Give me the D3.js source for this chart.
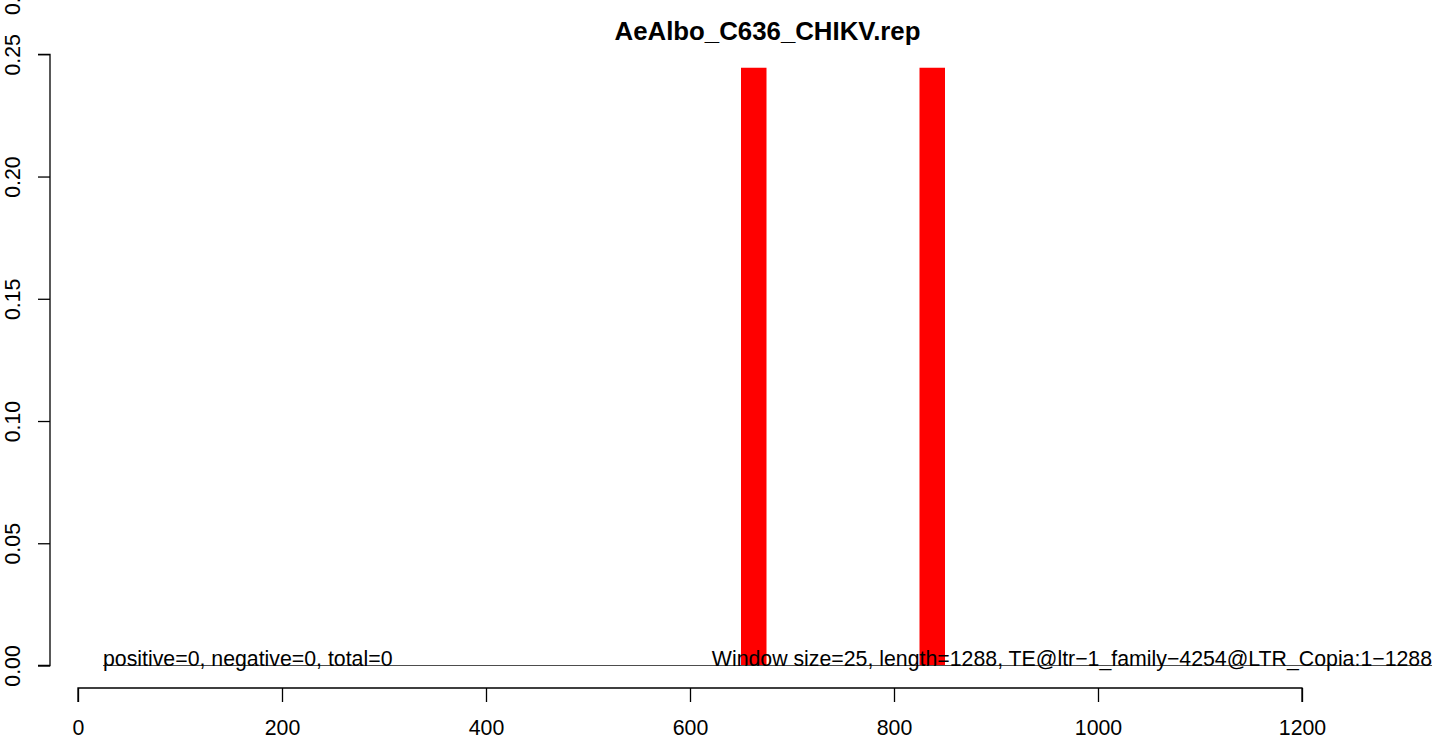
<!DOCTYPE html>
<html>
<head>
<meta charset="utf-8">
<script src="https://cdn.jsdelivr.net/npm/d3@7"></script>
<style>
  html, body { margin: 0; padding: 0; background: #fff; }
  svg { display: block; font-family: "Liberation Sans", Arial, Helvetica, sans-serif; }
</style>
</head>
<body>
<script>
// ---- data ----
const title = "AeAlbo_C636_CHIKV.rep";
const windowStarts = [650, 825];
const windowSize = 25;
const barValues = [0.2445, 0.2445];
const xTicks = [0, 200, 400, 600, 800, 1000, 1200];
const yTicks = [0, 0.05, 0.10, 0.15, 0.20, 0.25];
const yTickLabels = ["0.00", "0.05", "0.10", "0.15", "0.20", "0.25"];
const leftNote = "positive=0, negative=0, total=0";
const rightNote = "Window size=25, length=1288, TE@ltr\u22121_family\u22124254@LTR_Copia:1\u22121288";
const zeroLineRange = [24.5, 1327.5];

// ---- layout ----
const W = 1439, H = 740;
const FS = 21.3;
const svg = d3.select("body").append("svg").attr("width", W).attr("height", H);

const x = d3.scaleLinear().domain([0, 1200]).range([78, 1302]);
const y = d3.scaleLinear().domain([0, 0.25]).range([665.5, 54.3]);

// title
svg.append("text")
  .attr("x", (x(zeroLineRange[0]) + x(zeroLineRange[1])) / 2)
  .attr("y", 40)
  .attr("text-anchor", "middle")
  .attr("font-weight", "bold")
  .attr("font-size", 25.8)
  .text(title);

// bars
svg.append("g").selectAll("rect")
  .data(windowStarts.map((s, i) => ({ s, v: barValues[i] })))
  .join("rect")
  .attr("x", d => x(d.s))
  .attr("width", d => x(d.s + windowSize) - x(d.s))
  .attr("y", d => y(d.v))
  .attr("height", d => y(0) - y(d.v))
  .attr("fill", "#FF0000");

// zero line
svg.append("line")
  .attr("x1", x(zeroLineRange[0])).attr("x2", x(zeroLineRange[1]))
  .attr("y1", y(0)).attr("y2", y(0))
  .attr("stroke", "#4d4d4d").attr("stroke-width", 1);

// notes
svg.append("text")
  .attr("x", x(zeroLineRange[0])).attr("y", y(0) + 0.5)
  .attr("font-size", FS).attr("fill", "#000")
  .text(leftNote);
svg.append("text")
  .attr("x", x(zeroLineRange[1])).attr("y", y(0) + 0.5)
  .attr("text-anchor", "end")
  .attr("font-size", FS).attr("fill", "#000")
  .text(rightNote);

// x axis
const xAxis = d3.axisBottom(x).tickValues(xTicks).tickSize(14).tickPadding(18)
  .tickFormat(d3.format("d"));
const gx = svg.append("g").attr("transform", "translate(0,688)").call(xAxis);
gx.attr("font-size", FS).attr("font-family", null);
gx.select(".domain").attr("stroke", "#000").attr("stroke-width", 1.3)
  .attr("d", `M${x(0)},14V0H${x(1200)}V14`);
gx.selectAll(".tick line").attr("stroke", "#000").attr("stroke-width", 1.3);
gx.selectAll(".tick text").attr("fill", "#000");

// y axis
const yAxis = d3.axisLeft(y).tickValues(yTicks).tickSize(12)
  .tickFormat((d, i) => yTickLabels[i]);
const gy = svg.append("g").attr("transform", "translate(50,0)").call(yAxis);
gy.attr("font-size", FS).attr("font-family", null);
gy.select(".domain").attr("stroke", "#000").attr("stroke-width", 1.3)
  .attr("d", `M-12,${y(0.25)}H0V${y(0)}H-12`);
gy.selectAll(".tick line").attr("stroke", "#000").attr("stroke-width", 1.3);
gy.selectAll(".tick text")
  .attr("fill", "#000")
  .attr("x", null).attr("dy", null)
  .attr("text-anchor", "middle")
  .attr("transform", "translate(-30,0) rotate(-90)")
  .attr("y", 0);

// partially clipped extra label at the top of the y axis column (as in the reference)
svg.append("text")
  .attr("transform", `translate(20,${y(0.25) - 60}) rotate(-90)`)
  .attr("text-anchor", "middle")
  .attr("font-size", FS)
  .text("0.30");
</script>
</body>
</html>
